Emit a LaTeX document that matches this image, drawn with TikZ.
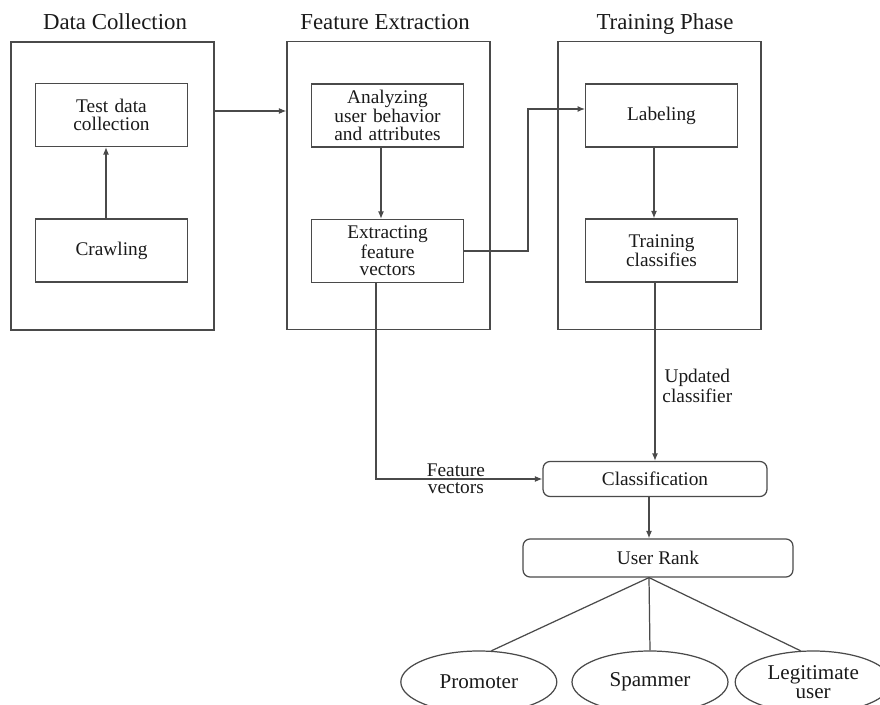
\documentclass[tikz,border=0pt]{standalone}
\usepackage{fontspec}
\setmainfont{Liberation Serif}
\usetikzlibrary{arrows.meta, positioning, shapes.geometric}
\definecolor{cLine}{HTML}{4A4A4A}
\definecolor{cText}{HTML}{1A1A1A}

\begin{document}
\begin{tikzpicture}[x=0.02cm, y=-0.02cm,
      group/.style  = {draw=cLine, line width=0.7pt, minimum width=4.06cm, minimum height=5.76cm},
      title/.style  = {anchor=base, text=cText, font=\fontsize{13}{14}\selectfont},
      stepbox/.style = {draw=cLine, line width=0.7pt, minimum width=2.98cm, minimum height=1.26cm, text width=2.8cm, align=center, text=cText, font=\fontsize{11}{10}\selectfont},
      rbox/.style   = {draw=cLine, line width=0.7pt, rounded corners=4pt, minimum height=0.7cm, text=cText, font=\fontsize{11}{12}\selectfont},
      leaf/.style   = {draw=cLine, line width=0.7pt, ellipse, minimum width=3.12cm, minimum height=1.24cm, inner sep=0pt, align=center, text=cText, font=\fontsize{12}{11}\selectfont},
      tag/.style    = {align=center, text=cText, font=\fontsize{11}{9.5}\selectfont},
      ar/.style     = {-{Latex[length=1.5mm, width=1.2mm]}, draw=cLine, line width=0.7pt},
      ln/.style     = {draw=cLine, line width=0.7pt} ]
    \useasboundingbox (0,0) rectangle (880,705);

    % three phases
    \node[group] (dc) at (112.5,186) {};
    \node[group] (fe) at (388.5,185.5) {};
    \node[group] (tp) at (659.5,185.5) {};
    \node[title] (tdc) at (115,30) {Data Collection};
    \node[title] (tfe) at (385,30) {Feature Extraction};
    \node[title] (ttp) at (665,30) {Training Phase};

    \node[stepbox] (test)    at (111.5,115)   {Test data\\collection};
    \node[stepbox] (crawl)   at (111.5,250.5) {Crawling};
    \node[stepbox] (analyze) at (387.5,115.5) {Analyzing\\user behavior\\and attributes};
    \node[stepbox] (extract) at (387.5,251)   {Extracting\\feature\\vectors};
    \node[stepbox] (label)   at (661.5,115.5) {Labeling};
    \node[stepbox] (train)   at (661.5,250.5) {Training\\classifies};

    % classification and ranking
    \node[rbox, minimum width=4.48cm] (class) at (655,479) {Classification};
    \node[rbox, minimum width=5.4cm, minimum height=0.76cm] (ur) at (658,558) {User Rank};
    \node[leaf] (spam)  at (650,682) {Spammer};
    \node[leaf, left=0.28cm of spam]  (prom)  {Promoter};
    \node[leaf, right=0.12cm of spam] (legit) {Legitimate\\user};

    \draw[ar] ([xshift=-0.11cm]crawl.north) -- ([xshift=-0.11cm]test.south);
    \draw[ar] ([yshift=0.08cm]dc.east |- test) -- ([yshift=0.08cm]fe.west |- test);
    \draw[ar] ([xshift=-0.13cm]analyze.south) -- ([xshift=-0.13cm]extract.north);
    \draw[ar] (extract.east) -- ++(1.28cm,0) |- ([yshift=0.13cm]label.west);
    \draw[ar] ([xshift=-0.15cm]label.south) -- ([xshift=-0.15cm]train.north);

    \draw[ar] ([xshift=-0.23cm]extract.south) |- (class.west)
      node[tag, pos=0.74] (fv) {Feature\\vectors};
    \draw[ar] (class.north |- train.south) -- (class.north)
      node[tag, pos=0.58, right=0.02cm] (uc) {Updated\\classifier};
    \draw[ar] ([xshift=-0.12cm]class.south) -- ([xshift=-0.12cm]class.south |- ur.north);

    \coordinate (hub) at ([xshift=-0.18cm]ur.south);
    \draw[ln] (hub) -- (prom.68);
    \draw[ln] (hub) -- (spam.north);
    \draw[ln] (hub) -- (legit.112);
  \end{tikzpicture}
\end{document}
